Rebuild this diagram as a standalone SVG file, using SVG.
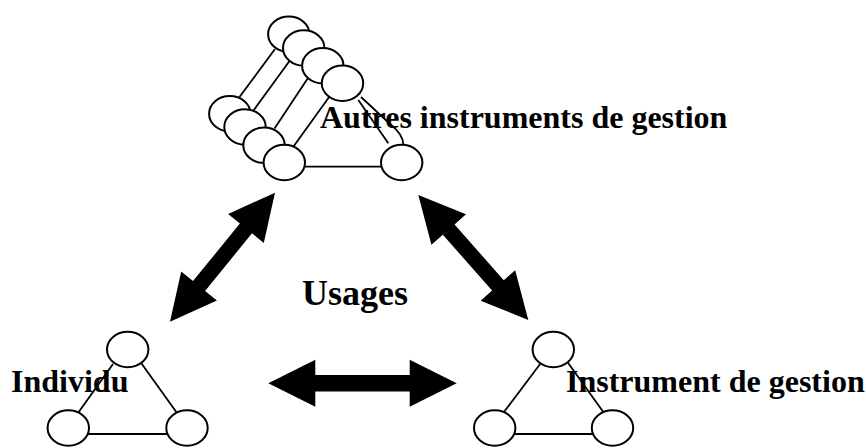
<svg xmlns="http://www.w3.org/2000/svg" width="866" height="448" viewBox="0 0 866 448">
<style>
.n{fill:#fff;stroke:#000;stroke-width:2}
.l{stroke:#000;stroke-width:1.8;fill:none}
.a{fill:#000;stroke:none}
.t{font-family:"Liberation Serif","Times New Roman",serif;font-weight:bold;font-size:32px;fill:#000}
</style>
<rect width="866" height="448" fill="#fff"/>
<g id="autres-instruments">
<path class="l" d="M275,49 L239.5,97 M289.5,61 L253.5,110.5 M308,78 L274.5,128.5 M329.5,96.5 L293.5,146.5 M358.3,100 L388.3,143.3 M361,97 L390,124 Q403,134 403.5,145 M302,166.7 L383,166.7"/>
<ellipse class="n" cx="288.8" cy="34.3" rx="20.7" ry="17.7"/>
<ellipse class="n" cx="303.7" cy="48" rx="20.7" ry="17.7"/>
<ellipse class="n" cx="322.8" cy="65.7" rx="20.7" ry="17.7"/>
<ellipse class="n" cx="342.5" cy="83.3" rx="20.7" ry="17.7"/>
<ellipse class="n" cx="229.8" cy="113.8" rx="20.7" ry="17.7"/>
<ellipse class="n" cx="245" cy="127" rx="20.7" ry="17.7"/>
<ellipse class="n" cx="264" cy="145.3" rx="20.7" ry="17.7"/>
<ellipse class="n" cx="284.3" cy="162.5" rx="20.7" ry="17.7"/>
<ellipse class="n" cx="401.7" cy="162.5" rx="20.7" ry="17.7"/>
<text class="t" x="320" y="128">Autres instruments de gestion</text>
</g>
<g id="individu">
<path class="l" d="M113,364 L78,413 M141.5,363.5 L177,413 M88,434 L168,434"/>
<ellipse class="n" cx="127.7" cy="349.5" rx="20.7" ry="17.7"/>
<ellipse class="n" cx="68.3" cy="428" rx="20.7" ry="17.7"/>
<ellipse class="n" cx="187" cy="428" rx="20.7" ry="17.7"/>
<text class="t" x="11" y="392">Individu</text>
</g>
<g id="instrument">
<path class="l" d="M540.5,363.5 L504,412 M566,360 L604,413 M514,434 L594,434"/>
<ellipse class="n" cx="553.3" cy="349.5" rx="20.7" ry="17.7"/>
<ellipse class="n" cx="494.7" cy="428" rx="20.7" ry="17.7"/>
<ellipse class="n" cx="612.5" cy="428" rx="20.7" ry="17.7"/>
<text class="t" x="566" y="392">Instrument de gestion</text>
</g>
<g id="connectors">
<path class="a" transform="translate(268.3,383.3)" d="M0,0 L47,-23.5 L47,-8.3 L141.4,-8.3 L141.4,-23.5 L188.4,0 L141.4,23.5 L141.4,8.3 L47,8.3 L47,23.5 Z"/>
<path class="a" transform="translate(170,321.7) rotate(-50.85)" d="M0,0 L46,-23 L46,-7.8 L120.3,-7.8 L120.3,-23 L166.3,0 L120.3,23 L120.3,7.8 L46,7.8 L46,23 Z"/>
<path class="a" transform="translate(418.3,195) rotate(48.65)" d="M0,0 L46,-23 L46,-7.8 L120.5,-7.8 L120.5,-23 L166.5,0 L120.5,23 L120.5,7.8 L46,7.8 L46,23 Z"/>
</g>
<g id="usages">
<text class="t" x="302" y="305" style="font-size:36px">Usages</text>
</g>
</svg>
